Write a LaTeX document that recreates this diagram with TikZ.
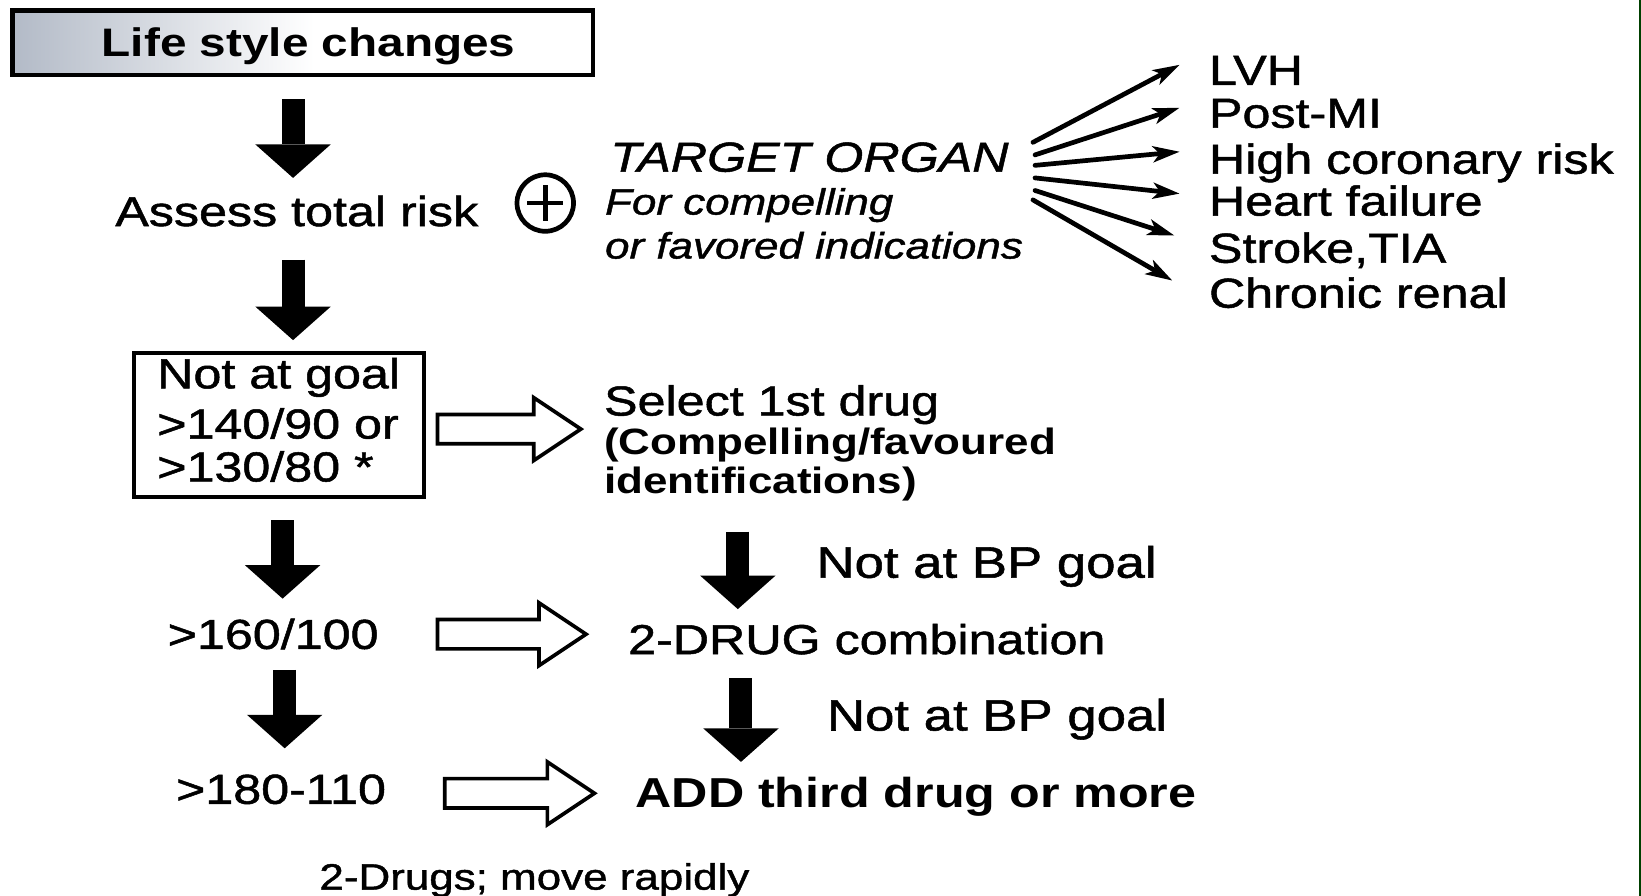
\documentclass[tikz,border=0pt]{standalone}
\usepackage{fontspec}
\setmainfont{Liberation Sans}[FakeStretch=1.2, UprightFeatures={FakeBold=1.2}, ItalicFeatures={FakeBold=1.2}]
\usetikzlibrary{arrows.meta,calc}
\begin{document}
\begin{tikzpicture}[x=1pt,y=-1pt,
  txt/.style={anchor=base west, inner sep=0pt, font=\fontsize{40}{48}\selectfont},
  txtsm/.style={anchor=base west, inner sep=0pt, font=\fontsize{35}{42}\selectfont},
  blk/.style={line width=22pt, -{Triangle[length=32pt,width=72pt,line width=0pt]}},
  hollow/.style={draw, line width=3.5pt, line join=miter, fill=white},
  fan/.style={line width=4.5pt, line cap=round, -{Stealth[length=26pt,width=16pt,inset=7pt,line width=0pt]}},
  boxline/.style={draw, line width=3.5pt}]
\useasboundingbox (0,0) rectangle (1568,856);
\fill[white] (0,0) rectangle (1568,856);
\draw[green!25!black, line width=2pt] (1567,0) -- (1567,856);

% Life style changes box
\shade[left color={rgb,1:red,0.70;green,0.73;blue,0.78}, right color=white] (12,10) rectangle (300,72);
\node[boxline, line width=4pt, minimum width=555pt, minimum height=62pt, inner sep=0pt] (life) at (289.5,41) {};
\node[txt, font=\bfseries\fontsize{38}{46}\selectfont] (lifet) at (97,54) {Life style changes};

% left column
\coordinate (a1s) at (280,95);  \coordinate (a1e) at (280,170);
\draw[blk] (a1s) -- (a1e);
\node[txt] (assess) at (110,216) {Assess total risk};
\node[circle, draw, line width=4.5pt, minimum size=54pt, inner sep=0pt] (plus) at (521,194) {};
\draw[line width=4.5pt] ($(plus.center)+(-17,0)$) -- ($(plus.center)+(17,0)$);
\draw[line width=4.5pt] ($(plus.center)+(0,-17)$) -- ($(plus.center)+(0,17)$);

\coordinate (a2s) at (280,248); \coordinate (a2e) at (280,325);
\draw[blk] (a2s) -- (a2e);

\node[boxline, minimum width=277pt, minimum height=138pt, inner sep=0pt] (goalbox) at (266.5,406) {};
\node[txt] (g1) at (150,371) {Not at goal};
\node[txt] (g2) at (150,419) {>140/90 or};
\node[txt] (g3) at (150,460) {>130/80 *};

\coordinate (a3s) at (270,497); \coordinate (a3e) at (270,572);
\draw[blk] (a3s) -- (a3e);
\node[txt] (p160) at (160,620) {>160/100};
\coordinate (a4s) at (272,640); \coordinate (a4e) at (272,715);
\draw[blk] (a4s) -- (a4e);
\node[txt] (p180) at (168,768) {>180-110};
\node[txtsm] (rapid) at (305,850) {2-Drugs; move rapidly};

% hollow arrows
\coordinate (h1) at (418,410);
\draw[hollow] (h1) ++(0,-14) -- ++(92,0) -- ++(0,-16) -- ++(45,30) -- ++(-45,30) -- ++(0,-16) -- ++(-92,0) -- cycle;
\coordinate (h2) at (418,606);
\draw[hollow] (h2) ++(0,-14) -- ++(97,0) -- ++(0,-16) -- ++(45,30) -- ++(-45,30) -- ++(0,-16) -- ++(-97,0) -- cycle;
\coordinate (h3) at (425,758);
\draw[hollow] (h3) ++(0,-14) -- ++(98,0) -- ++(0,-16) -- ++(45,30) -- ++(-45,30) -- ++(0,-16) -- ++(-98,0) -- cycle;

% middle column
\node[txt] (sel) at (577,397) {Select 1st drug};
\node[txtsm, font=\bfseries\fontsize{35}{42}\selectfont] (comp) at (577,434) {(Compelling/favoured};
\node[txtsm, font=\bfseries\fontsize{35}{42}\selectfont] (ident) at (577,472) {identifications)};
\coordinate (a5s) at (705,508); \coordinate (a5e) at (705,582);
\draw[blk] (a5s) -- (a5e);
\node[txt, font=\fontsize{42}{50}\selectfont] (nbp1) at (780,552) {Not at BP goal};
\node[txt] (two) at (600,625) {2-DRUG combination};
\coordinate (a6s) at (708,648); \coordinate (a6e) at (708,728);
\draw[blk] (a6s) -- (a6e);
\node[txt, font=\fontsize{42}{50}\selectfont] (nbp2) at (790,698) {Not at BP goal};
\node[txt, font=\bfseries\fontsize{40}{48}\selectfont] (add) at (607,772) {ADD third drug or more};

% target organ
\node[txt, font=\itshape\fontsize{40}{48}\selectfont] (target) at (583,164) {TARGET ORGAN};
\node[txtsm, font=\itshape\fontsize{35}{42}\selectfont] (forc) at (578,205) {For compelling};
\node[txtsm, font=\itshape\fontsize{35}{42}\selectfont] (orfav) at (578,247) {or favored indications};

\node[txt] (lvh) at (1155,81) {LVH};
\node[txt] (post) at (1155,122) {Post-MI};
\node[txt] (high) at (1155,166) {High coronary risk};
\node[txt] (heart) at (1155,206) {Heart failure};
\node[txt] (stroke) at (1155,251) {Stroke,TIA};
\node[txt] (chron) at (1155,294) {Chronic renal};

\coordinate (f1s) at (987,136); \coordinate (f1e) at (1127,62);
\coordinate (f2s) at (989,148); \coordinate (f2e) at (1127,103);
\coordinate (f3s) at (989,158); \coordinate (f3e) at (1127,145);
\coordinate (f4s) at (989,170); \coordinate (f4e) at (1127,185);
\coordinate (f5s) at (989,182); \coordinate (f5e) at (1122,225);
\coordinate (f6s) at (987,191); \coordinate (f6e) at (1120,268);
\foreach \i in {1,...,6} {\draw[fan] (f\i s) -- (f\i e);}
\end{tikzpicture}
\end{document}
